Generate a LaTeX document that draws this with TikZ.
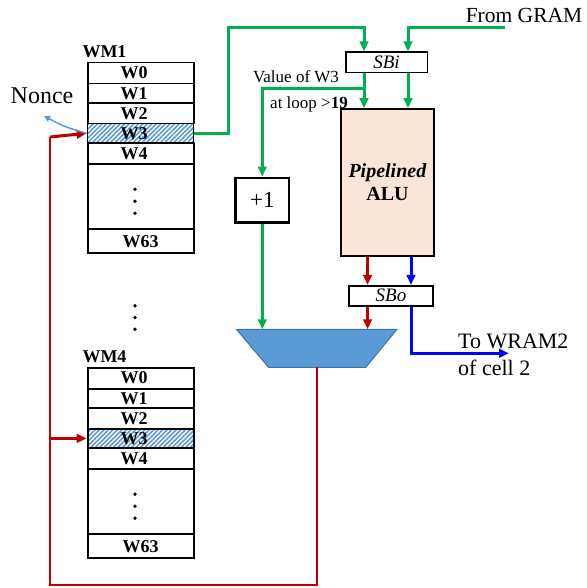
\documentclass[tikz,border=0pt]{standalone}
\usepackage{fontspec}
\setmainfont{Liberation Serif}
\usetikzlibrary{arrows.meta,patterns.meta}
\definecolor{gr}{HTML}{00B050}
\definecolor{rd}{HTML}{C00000}
\definecolor{bl}{HTML}{0000FF}
\definecolor{lb}{HTML}{5B9BD5}
\definecolor{peach}{HTML}{FBE5D6}
\definecolor{muxedge}{HTML}{41719C}
\newcommand\fsz[1]{\fontsize{#1}{#1}\selectfont}
\newcommand\lft[1]{#1\hspace*{13pt}}
\newcommand\wmblock[3]{%
  \node[wmlabel] (#1lbl) at (104.5,51.5+#2) {#3};
  \node[row,minimum height=21pt] (#1w0) at (86.7,61.7+#2) {\lft{W0}};
  \node[row,minimum height=19.6pt] (#1w1) at (86.7,82.7+#2) {\lft{W1}};
  \node[row,minimum height=20.4pt] (#1w2) at (86.7,102.3+#2) {\lft{W2}};
  \node[row,minimum height=19.6pt,preaction={fill=white},
        pattern={Lines[angle=45,distance=3.2pt,line width=1.6pt]},pattern color=lb] (#1w3) at (86.7,122.7+#2) {\lft{W3}};
  \node[row,minimum height=20.4pt] (#1w4) at (86.7,142.3+#2) {\lft{W4}};
  \node[row,minimum height=65.6pt] (#1dots) at (86.7,162.7+#2) {};
  \node[row,minimum height=24pt] (#1w63) at (86.7,228.3+#2) {W63};
  \fill (135,189.3+#2) circle (1.9pt) (135,201.3+#2) circle (1.9pt) (135,213.3+#2) circle (1.9pt);
}
\begin{document}
\begin{tikzpicture}[x=1pt,y=-1pt,
  row/.style={draw,line width=1.8pt,minimum width=106pt,inner sep=0pt,anchor=north west,font=\fsz{18}\bfseries},
  wmlabel/.style={inner sep=0pt,font=\fsz{18}\bfseries},
  sbox/.style={draw,line width=1.6pt,fill=white,inner sep=0pt,font=\fsz{19}\itshape},
  tip/.style={-{Triangle[length=10pt,width=8.5pt]}},
  gline/.style={draw=gr,line width=3pt},
  garrow/.style={gline,tip},
  rline/.style={draw=rd,line width=2.3pt},
  rarrow/.style={draw=rd,line width=3pt,tip},
  barrow/.style={draw=bl,line width=3pt,tip},
  txt/.style={inner sep=0pt}]
\useasboundingbox (0,0) rectangle (586,588);

% memory blocks
\wmblock{wma}{0}{WM1}
\wmblock{wmb}{305}{WM4}
\fill (135,305.7) circle (1.9pt) (135,317.5) circle (1.9pt) (135,329.3) circle (1.9pt);

% main boxes
\node[sbox,minimum width=81.6pt,minimum height=20.4pt] (sbi) at (386.5,62.5) {SBi};
\node[draw,line width=1.6pt,fill=peach,minimum width=93pt,minimum height=147pt,align=center,
      font=\fsz{20}\bfseries] (alu) at (387.5,182.5) {\textit{Pipelined}\\[3pt]ALU};
\node[draw,line width=2.8pt,minimum width=53.3pt,minimum height=44.7pt,font=\fsz{23}] (plus) at (262.3,200.3) {+1};
\node[sbox,minimum width=84pt,minimum height=20pt] (sbo) at (391,295.7) {SBo};

% multiplexer
\draw[fill=lb,draw=muxedge,line width=1pt] (236.4,329.3) -- (397,329.3) -- (365.8,367.3) -- (268.5,367.3) -- cycle;
\coordinate (muxtop) at (0,329.3);
\coordinate (muxout) at (316.7,367.3);

% texts
\node[txt,font=\fsz{24}] (nonce) at (42,96) {Nonce};
\node[txt,font=\fsz{21.5}] (gramtxt) at (524,15) {From GRAM};
\node[txt,font=\fsz{17}] (valtxt) at (296,77) {Value of W3};
\node[txt,font=\fsz{17}] (looptxt) at (309,104) {at loop >\textbf{19}};
\node[txt,font=\fsz{22},anchor=west] (wram1) at (458,341) {To WRAM2};
\node[txt,font=\fsz{22},anchor=west] (wram2) at (458,368) {of cell 2};

% helper coordinates
\coordinate (xa) at (364,0);
\coordinate (xb) at (408,0);
\coordinate (xr) at (367.6,0);
\coordinate (xu) at (411,0);
\coordinate (xl) at (50,0);
\coordinate (xg) at (228,0);
\coordinate (gram) at (505,28);
\coordinate (topy) at (0,28);
\coordinate (br) at (364,88.3);
\coordinate (wramend) at (509,353.3);
\coordinate (nonceend) at (44,116);
\coordinate (loopup) at (50,137);
\coordinate (boty) at (0,585);

% green paths
\draw[garrow] (wmaw3.east) -- (xg |- wmaw3.east) -- (xg |- topy) -| (xa |- sbi.north);
\draw[garrow] (gram) -| (xb |- sbi.north);
\draw[garrow] (xa |- sbi.south) -- (xa |- alu.north);
\draw[garrow] (xb |- sbi.south) -- (xb |- alu.north);
\draw[garrow] (br) -| (plus.north);
\draw[garrow] (plus.south) -- (plus.south |- muxtop);

% red / blue paths
\draw[rarrow] (xr |- alu.south) -- (xr |- sbo.north);
\draw[rarrow] (xr |- sbo.south) -- (xr |- muxtop);
\draw[barrow] (xu |- alu.south) -- (xu |- sbo.north);
\draw[barrow] (xu |- sbo.south) |- (wramend);
\draw[rline] (muxout) -- (muxout |- boty) -- (xl |- boty) -- (loopup);
\draw[rarrow] (loopup) -- (wmaw3.west);
\draw[rarrow] (xl |- wmbw3.west) -- (wmbw3.west);

% nonce arrow
\draw[draw=lb,line width=1.5pt,-{Triangle[length=6pt,width=6pt]}] (wmaw3.west) .. controls (65,127) .. (nonceend);
\end{tikzpicture}
\end{document}
